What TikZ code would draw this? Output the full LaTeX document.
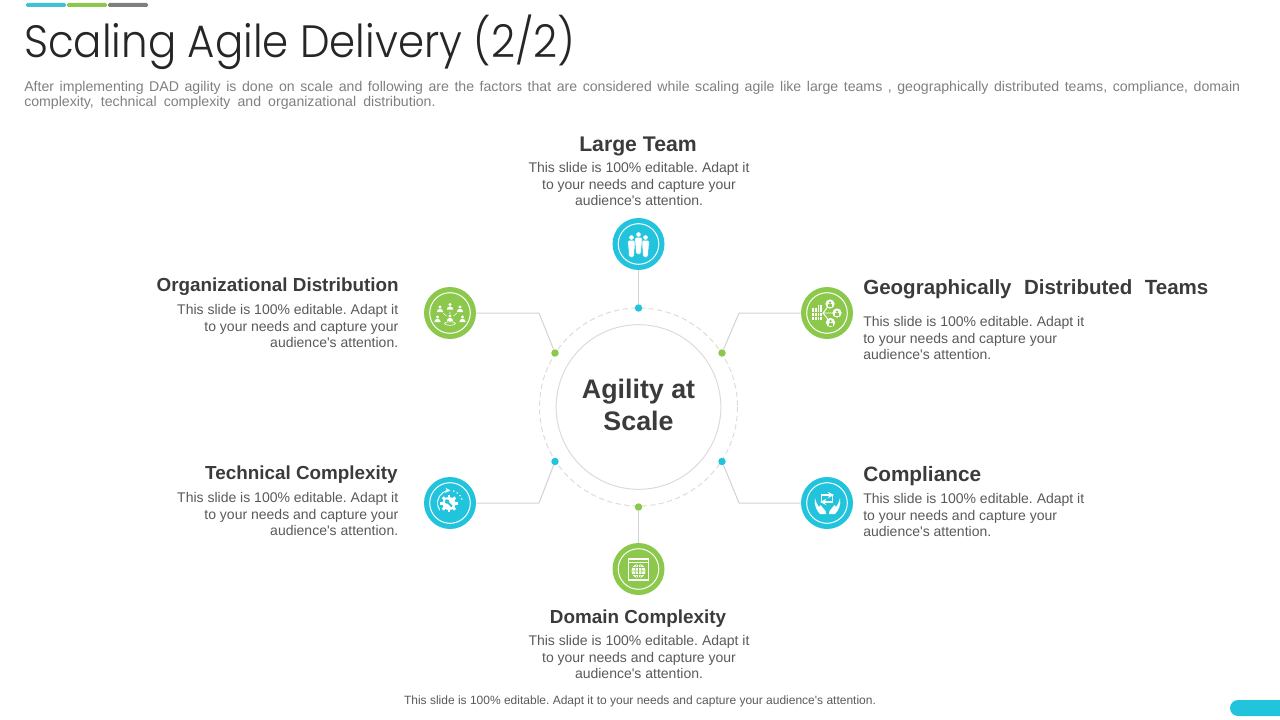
\documentclass[tikz,border=0pt]{standalone}
\usepackage{fontspec}
\setmainfont{Liberation Sans}
\newfontfamily\titlefont[FakeStretch=0.925]{Poppins Light}
\frenchspacing
\definecolor{cyanc}{HTML}{22C4DD}
\definecolor{greenc}{HTML}{8CC84B}
\definecolor{barcyan}{HTML}{3FC1D6}
\definecolor{bargray}{HTML}{7F7F7F}
\definecolor{linec}{HTML}{D2D2D2}
\definecolor{dashc}{HTML}{DDDDD8}
\definecolor{headc}{HTML}{3B3B3B}
\definecolor{bodyc}{HTML}{595959}
\definecolor{subc}{HTML}{7F7F7F}
\tikzset{
  iconc/.style={circle,minimum size=39pt,inner sep=0pt,fill=#1},
  dotc/.style={circle,minimum size=5.6pt,inner sep=0pt,fill=#1},
  conn/.style={draw=linec,line width=0.75pt},
  headt/.style={inner sep=0pt,text=headc,font=\fontsize{#1}{18}\selectfont\bfseries},
  headt/.default=15.9,
  bodyt/.style={inner sep=0pt,text=bodyc,font=\fontsize{10.5}{12.4}\selectfont},
  ring/.style={draw=white,line width=0.75pt},
  man/.pic={
    \fill[white] (0,0) circle [radius=2.3];
    \fill[white,draw=#1,line width=0.35pt,rounded corners=0.8pt] (-3.8,3) -- (3.8,3) -- (3.3,11) -- (2.4,19.5) -- (-2.4,19.5) -- (-3.3,11) -- cycle;
  },
  tiny/.pic={
    \fill[white] (0,0) circle [radius=1.7];
    \fill[white] (-3.2,5) arc (180:360:3.2 and 3.2) -- cycle;
  }
}
\newcommand{\bodylines}{This slide is 100\% editable. Adapt it\\to your needs and capture your\\audience\textquotesingle s attention.}
\begin{document}
\begin{tikzpicture}[x=0.75pt,y=-0.75pt]
\useasboundingbox (0,0) rectangle (1280,720);
% top bars
\fill[barcyan,rounded corners=1pt] (26,3) rectangle (66,7);
\fill[greenc,rounded corners=1pt] (67,3) rectangle (107,7);
\fill[bargray,rounded corners=1pt] (108,3) rectangle (148,7);
\fill[cyanc,rounded corners=6pt] (1230,700) rectangle (1290,716);
% title and intro
\node (title) [right,inner sep=0pt,text=black!85,font=\fontsize{34}{40}\titlefont] at (24,42) {Scaling Agile Delivery (2/2)};
\node (intro) [right,inner sep=0pt,text=subc,align=left,font=\fontsize{10.6}{11.2}\selectfont] at (24,95) {\makebox[912pt][s]{After implementing DAD agility is done on scale and following are the factors that are considered while scaling agile like large teams , geographically distributed teams, compliance, domain}\\\makebox[308.5pt][s]{complexity, technical complexity and organizational distribution.}};
\node (foot) [inner sep=0pt,text=bodyc,font=\fontsize{9}{11}\selectfont] at (640,701.5) {This slide is 100\% editable. Adapt it to your needs and capture your audience\textquotesingle s attention.};
% center
\draw[dashc,line width=0.75pt,dash pattern=on 4pt off 2.5pt] (638.5,407) circle [radius=99];
\node (hub) [circle,draw=linec!80,line width=0.75pt,minimum size=123.5pt,inner sep=0pt] at (638.5,407) {};
\node (hubtxt) [inner sep=0pt,text=headc,align=center,font=\fontsize{20.1}{24}\selectfont\bfseries] at (638.5,405) {Agility at\\Scale};
% dots
\node (dotTop) [dotc=cyanc] at (638.5,308) {};
\node (dotBot) [dotc=greenc] at (638.5,507) {};
\node (dotOrg) [dotc=greenc] at (555,353) {};
\node (dotGeo) [dotc=greenc] at (722,353) {};
\node (dotTech) [dotc=cyanc] at (555,461.5) {};
\node (dotComp) [dotc=cyanc] at (722,461.5) {};
% icon discs
\node (iconTeam) [iconc=cyanc] at (638.5,244) {};
\node (iconOrg) [iconc=greenc] at (450,313) {};
\node (iconGeo) [iconc=greenc] at (827,313) {};
\node (iconTech) [iconc=cyanc] at (450,503) {};
\node (iconComp) [iconc=cyanc] at (827,503) {};
\node (iconDom) [iconc=greenc] at (638.5,569) {};
% connectors
\coordinate (elbowOrg) at (539,313);
\coordinate (elbowGeo) at (739,313);
\coordinate (elbowTech) at (539,503);
\coordinate (elbowComp) at (739,503);
\draw[conn] (iconTeam) -- (dotTop);
\draw[conn] (iconDom) -- (dotBot);
\draw[conn] (iconOrg) -- (elbowOrg) -- (dotOrg);
\draw[conn] (iconGeo) -- (elbowGeo) -- (dotGeo);
\draw[conn] (iconTech) -- (elbowTech) -- (dotTech);
\draw[conn] (iconComp) -- (elbowComp) -- (dotComp);
% rings
\foreach \p in {iconTeam,iconOrg,iconGeo,iconTech,iconComp,iconDom}
  \draw[ring] (\p) circle [radius=20.3];
% team icon
\pic at (631.5,237.5) {man=cyanc};
\pic at (645.5,237.5) {man=cyanc};
\pic at (638.5,234.5) {man=cyanc};
% org icon
\foreach \x/\y in {440/307,450/304.5,460/307,437.5/317,450/316,462.5/317}
  \pic at (\x,\y) {tiny};
\draw[white,line width=0.5pt] (450,323.5) ellipse [x radius=5.5,y radius=1.8];
\draw[white,line width=0.4pt] (443,313) -- (446.5,316) (457,313) -- (453.5,316) (450,311.5) -- (450,314);
% geo icon
\draw[white,line width=0.7pt] (830,304) -- (823,313) -- (837,313) (823,313) -- (830.5,322.5);
\fill[white] (812,308) rectangle (817,320);
\fill[white] (817.5,305) rectangle (822,320);
\draw[greenc,line width=0.35pt] (814.5,308) -- (814.5,320) (819.7,305) -- (819.7,320) (812,312) -- (822,312) (812,316) -- (822,316);
\foreach \x/\y in {830/304,837/313,830.5/322.5} {
  \fill[white] (\x,\y) circle [radius=4.6];
  \fill[greenc] (\x,\y-1.3) circle [radius=1.3];
  \fill[greenc] (\x-2,\y+3) rectangle (\x+2,\y+0.4);
}
% tech icon
\foreach \a in {0,45,...,315}
  \fill[white] (449,503.5) ++(\a-14:5.5) -- ++(\a:3.4) -- ++(\a+90:2.8) -- ++(\a+180:3.4) -- cycle;
\fill[white] (449,503.5) circle [radius=6.5];
\draw[cyanc,line width=1.4pt] (446,500.5) -- (452,506.5);
\fill[cyanc] (447,501.5) circle [radius=2.2];
\draw[white,line width=0.7pt,-stealth] (450,503) ++(145:12.5) arc (145:272:12.5);
\draw[white,line width=0.9pt,dotted] (450,503) ++(285:12.5) arc (285:345:12.5);
% compliance icon
\draw[white,line width=1.1pt,-stealth] (821.5,501.5) -- (821.5,495) -- (834,495);
\draw[white,line width=1.1pt,-stealth] (832.5,496) -- (832.5,502) -- (820,502);
\fill[white] (815,498) .. controls (816,502) and (817,505) .. (819,507) -- (820.5,505) -- (823,508) -- (825.5,511) -- (826,514) -- (820,514) .. controls (817,511) and (813.5,505) .. cycle;
\fill[white] (840,498) .. controls (839,502) and (838,505) .. (836,507) -- (834.5,505) -- (832,508) -- (829.5,511) -- (829,514) -- (835,514) .. controls (838,511) and (841.5,505) .. cycle;
% domain icon
\draw[white,line width=0.9pt] (628.5,559) rectangle (648.5,580);
\draw[white,line width=0.5pt] (628.5,562.5) -- (648.5,562.5);
\fill[white] (638.5,571) circle [radius=7];
\draw[greenc,line width=0.4pt] (631.5,571) -- (645.5,571) (638.5,564) -- (638.5,578) (638.5,571) ellipse [x radius=3.4,y radius=7] (632.5,567.5) -- (644.5,567.5) (632.5,574.5) -- (644.5,574.5);
% labels
\node (lblTeam) [headt] at (638,146) {Large Team};
\node (txtTeam) [bodyt,align=center] at (639,184) {\bodylines};
\node (lblOrg) [headt=14.15,left] at (399,286.5) {Organizational Distribution};
\node (txtOrg) [bodyt,left,align=right] at (398.5,326) {\bodylines};
\node (lblGeo) [headt=15.4,right] at (863,289.5) {\makebox[258.8pt][s]{Geographically Distributed Teams}};
\node (txtGeo) [bodyt,right,align=left] at (863,338) {\bodylines};
\node (lblTech) [headt=14.15,left] at (398,474.5) {Technical Complexity};
\node (txtTech) [bodyt,left,align=right] at (398.5,514) {\bodylines};
\node (lblComp) [headt=15.6,right] at (863,476) {Compliance};
\node (txtComp) [bodyt,right,align=left] at (863,515) {\bodylines};
\node (lblDom) [headt=14.15] at (638,619) {Domain Complexity};
\node (txtDom) [bodyt,align=center] at (639,657) {\bodylines};
\end{tikzpicture}
\end{document}
